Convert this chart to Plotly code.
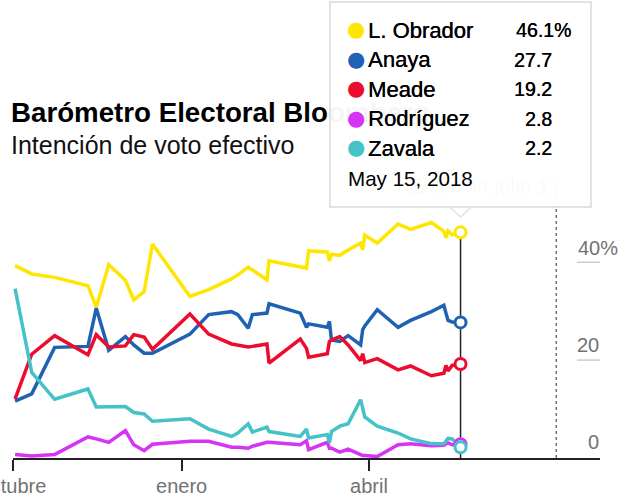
import plotly.graph_objects as go

# Poll dates shared by all five candidates
dates = ["2017-10-13", "2017-10-21", "2017-11-01", "2017-11-17", "2017-11-21", "2017-11-27",
         "2017-12-05", "2017-12-09", "2017-12-14", "2017-12-18", "2018-01-05", "2018-01-14",
         "2018-01-25", "2018-01-28", "2018-02-02", "2018-02-04", "2018-02-11", "2018-02-12",
         "2018-02-27", "2018-03-02", "2018-03-03", "2018-03-12", "2018-03-13", "2018-03-14",
         "2018-03-18", "2018-03-22", "2018-03-28", "2018-03-29", "2018-03-30", "2018-04-05",
         "2018-04-15", "2018-04-21", "2018-05-01", "2018-05-07", "2018-05-08", "2018-05-09",
         "2018-05-11", "2018-05-15"]

obrador = [39.3, 37.6, 36.9, 35.2, 30.8, 39.5, 36.3, 32.3, 34.0, 43.7, 33.0, 34.4,
           36.6, 37.4, 39.0, 38.4, 36.4, 40.3, 38.9, 38.8, 42.3, 42.1, 40.3, 41.6,
           41.4, 42.5, 43.9, 42.5, 45.5, 43.9, 47.8, 46.7, 48.1, 46.3, 45.0, 46.4,
           45.6, 46.1]
anaya = [11.6, 13.1, 22.6, 22.8, 30.6, 22.0, 24.8, 23.1, 21.4, 21.4, 25.3, 29.3,
         29.9, 29.3, 26.5, 29.3, 29.6, 31.5, 29.6, 26.7, 27.4, 26.7, 27.9, 24.1,
         23.8, 25.0, 23.1, 26.2, 27.0, 30.3, 26.7, 28.1, 29.9, 31.2, 29.6, 28.1,
         27.8, 27.7]
meade = [12.1, 21.2, 25.0, 21.1, 25.2, 22.7, 22.9, 25.2, 24.7, 22.2, 29.4, 25.3,
         23.3, 23.1, 22.7, 22.8, 23.3, 19.4, 24.3, 22.4, 20.6, 21.3, 23.8, 24.1,
         24.8, 23.1, 19.9, 21.3, 19.5, 20.3, 18.0, 18.8, 16.8, 17.3, 18.9, 17.8,
         18.9, 19.2]
rodriguez = [0.7, 0.4, 0.7, 4.3, 3.9, 3.2, 5.6, 2.7, 1.5, 2.8, 3.4, 3.4,
             2.2, 2.2, 2.0, 2.4, 3.2, 3.2, 2.7, 3.5, 1.7, 3.2, 2.0, 2.0,
             1.2, 1.8, 0.7, 0.5, 0.5, 0.3, 2.7, 2.9, 2.5, 2.6, 2.9, 3.1,
             2.7, 2.8]
zavala = [34.6, 17.5, 12.0, 14.1, 10.4, 10.4, 10.5, 9.3, 9.0, 7.5, 8.0, 5.9,
          4.4, 5.1, 7.0, 5.3, 6.3, 5.4, 4.4, 5.9, 4.1, 4.8, 3.1, 5.4,
          6.5, 7.0, 11.9, 10.2, 8.4, 6.5, 5.1, 3.9, 2.9, 2.9, 3.4, 4.0,
          3.9, 2.2]

names = ["L. Obrador", "Anaya", "Meade", "Rodríguez", "Zavala"]
series = [obrador, anaya, meade, rodriguez, zavala]
colors = ["#FFE600", "#1F62B3", "#EC0C2D", "#D633F5", "#45C1C8"]

tick_dates = ["2017-10-12", "2018-01-01", "2018-04-01"]
tick_labels = ["octubre", "enero", "abril"]
grid_values = [20, 40]
election_date = "2018-06-30"

W, H = 629, 501
LEFT, RIGHT, TOP, BOTTOM = 13, 29, 178, 42.5
FONT = "Liberation Sans"
GREY = "#727272"
MEDIUM = "0.35px 0 0 #000000"


# Annotations and some shapes are placed in window pixels
def px(x):
    return (x - LEFT) / (W - LEFT - RIGHT)


def py(y):
    return (H - BOTTOM - y) / (H - TOP - BOTTOM)


def text(label, x, y, size, color="#111111", xanchor="left", family=FONT, **font_args):
    return dict(text=label, x=px(x), y=py(y), xref="paper", yref="paper", showarrow=False,
                xanchor=xanchor, yanchor="middle", borderpad=0,
                font=dict(family=family, size=size, color=color, **font_args))


fig = go.Figure()

# Cursor line under the series
fig.add_trace(go.Scatter(x=[dates[-1], dates[-1]], y=[0, obrador[-1]], mode="lines",
                         line=dict(color="#222222", width=1.5), hoverinfo="skip"))

for name, values, color in zip(names, series, colors):
    fig.add_trace(go.Scatter(x=dates, y=values, mode="lines", name=name,
                             line=dict(color=color, width=3.5), hoverinfo="skip"))
for values, color in zip(series, colors):
    fig.add_trace(go.Scatter(x=[dates[-1]], y=[values[-1]], mode="markers", cliponaxis=False,
                             marker=dict(size=11, color="white", line=dict(color=color, width=3)),
                             hoverinfo="skip"))

shapes = [dict(type="line", xref="x", yref="paper", x0=election_date, x1=election_date, y0=0, y1=1,
               line=dict(color=GREY, width=1.5, dash="3px,3px"))]
for v in grid_values:
    shapes.append(dict(type="line", xref="paper", yref="y", x0=px(577), x1=px(600), y0=v, y1=v,
                       line=dict(color="#cccccc", width=1.5)))
# Pointer under the tooltip
shapes.append(dict(type="path", xref="x", yref="paper", xsizemode="pixel", ysizemode="pixel",
                   xanchor=dates[-1], yanchor=py(207), path="M -13 2 L 0 -10 L 13 2 Z",
                   fillcolor="white", line=dict(color="#e2e2e2", width=1.5)))

annotations = [
    text("<b>Barómetro Electoral Bloomberg</b>", 10, 112, 27.7, "#000000"),
    text("Intención de voto efectivo", 10, 145, 25, "#111111"),
    text("Elección julio 1", 550, 186, 21, GREY, xanchor="right"),
    # Tooltip box is an annotation so it covers the title text behind it
    dict(text="&nbsp;", x=px(329), y=py(1), xref="paper", yref="paper", showarrow=False,
         xanchor="left", yanchor="top", width=259, height=203, borderpad=0, borderwidth=2,
         bordercolor="#e2e2e2", bgcolor="rgba(255,255,255,0.96)"),
]

for i, (name, values, color) in enumerate(zip(names, series, colors)):
    row_y = 30 + i * 29.6
    annotations.append(text("●", 355.7, row_y - 1, 21, color, xanchor="center", family="DejaVu Sans"))
    annotations.append(text(name, 367, row_y, 22, "#000000", shadow=MEDIUM))
    if i == 0:
        annotations.append(text(f"{values[-1]}%", 572, row_y, 19.5, "#000000", xanchor="right", shadow=MEDIUM))
    else:
        annotations.append(text(f"{values[-1]}", 553, row_y, 19.5, "#000000", xanchor="right", shadow=MEDIUM))

annotations.append(text("May 15, 2018", 347, 178, 20.6, "#000000"))

# Value labels sit on the short grid lines at the right
annotations.append(text("40%", 577, 248, 20, GREY))
annotations.append(text("20", 600, 345, 20, GREY, xanchor="right"))
annotations.append(text("0", 600, 442, 20, GREY, xanchor="right"))

fig.update_layout(
    width=W, height=H, margin=dict(l=LEFT, r=RIGHT, t=TOP, b=BOTTOM, pad=0),
    paper_bgcolor="white", plot_bgcolor="white", showlegend=False, hovermode=False,
    shapes=shapes, annotations=annotations,
    xaxis=dict(type="date", range=["2017-10-12", "2018-07-21"], tickmode="array",
               tickvals=tick_dates, ticktext=tick_labels, ticks="outside", ticklen=11,
               tickwidth=1.5, tickcolor="#222222", showgrid=False, zeroline=False,
               showline=True, linecolor="#222222", linewidth=1.5, automargin=False,
               ticklabeloverflow="allow", ticklabelstandoff=-2,
               tickfont=dict(family=FONT, size=20, color=GREY)),
    yaxis=dict(range=[0, 57.2], visible=False, automargin=False),
)

fig.write_html("out.html", config={"displayModeBar": False},
               post_script="document.body.style.margin='0';document.body.style.overflow='hidden';")
